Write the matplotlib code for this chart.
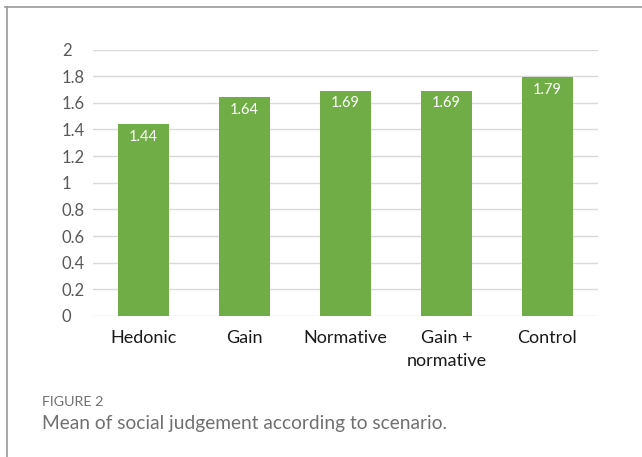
import matplotlib
matplotlib.use("Agg")
import matplotlib.pyplot as plt
from matplotlib.lines import Line2D

categories = ["Hedonic", "Gain", "Normative", "Gain +\nnormative", "Control"]
values = [1.44, 1.64, 1.69, 1.69, 1.79]
value_labels = ["1.44", "1.64", "1.69", "1.69", "1.79"]
yticks = [0, 0.2, 0.4, 0.6, 0.8, 1, 1.2, 1.4, 1.6, 1.8, 2]
ytick_labels = ["0", "0.2", "0.4", "0.6", "0.8", "1", "1.2", "1.4", "1.6", "1.8", "2"]

plt.rcParams['font.family'] = ['Lato', 'DejaVu Sans']

W, H = 642, 457
fig = plt.figure(figsize=(W / 100, H / 100), dpi=100)
fig.patch.set_facecolor("white")

ax = fig.add_axes([93 / W, (H - 316) / H, (598 - 93) / W, (316 - 49.5) / H])
x = list(range(len(categories)))
ax.bar(x, values, width=0.5, color="#70AD47", zorder=3)
ax.set_xlim(-0.5, len(categories) - 0.5)
ax.set_ylim(0, 2)
ax.set_yticks(yticks)
ax.set_yticklabels(ytick_labels, fontsize=12, color="#595959", ha="left")
ax.tick_params(axis="y", length=0, pad=31 * 0.72)
ax.set_xticks(x)
ax.set_xticklabels(categories, fontsize=13, color="#1a1a1a", linespacing=1.55)
ax.tick_params(axis="x", length=0, pad=10)
ax.grid(axis="y", color="#D9D9D9", linewidth=1.0, zorder=0)
for s in ax.spines.values():
    s.set_visible(False)

for xi, v, lab in zip(x, values, value_labels):
    ax.annotate(lab, (xi, v), xytext=(0, -9), textcoords="offset points",
                ha="center", va="center", color="white", fontsize=10.5, zorder=4)

# frame lines
fig.add_artist(Line2D([5 / W, 1], [1 - 7 / H, 1 - 7 / H], color="#9a9a9a", linewidth=1.2,
                      transform=fig.transFigure))
fig.add_artist(Line2D([7 / W, 7 / W], [0, 1 - 7 / H], color="#9a9a9a", linewidth=1.2,
                      transform=fig.transFigure))

fig.text(42 / W, 1 - 402 / H, "FIGURE 2", fontsize=10.3, color="#707070", va="center", ha="left")
fig.text(42 / W, 1 - 423 / H, "Mean of social judgement according to scenario.", fontsize=13.8,
         color="#707070", va="center", ha="left")

fig.savefig("out.png", dpi=100, facecolor="white")
